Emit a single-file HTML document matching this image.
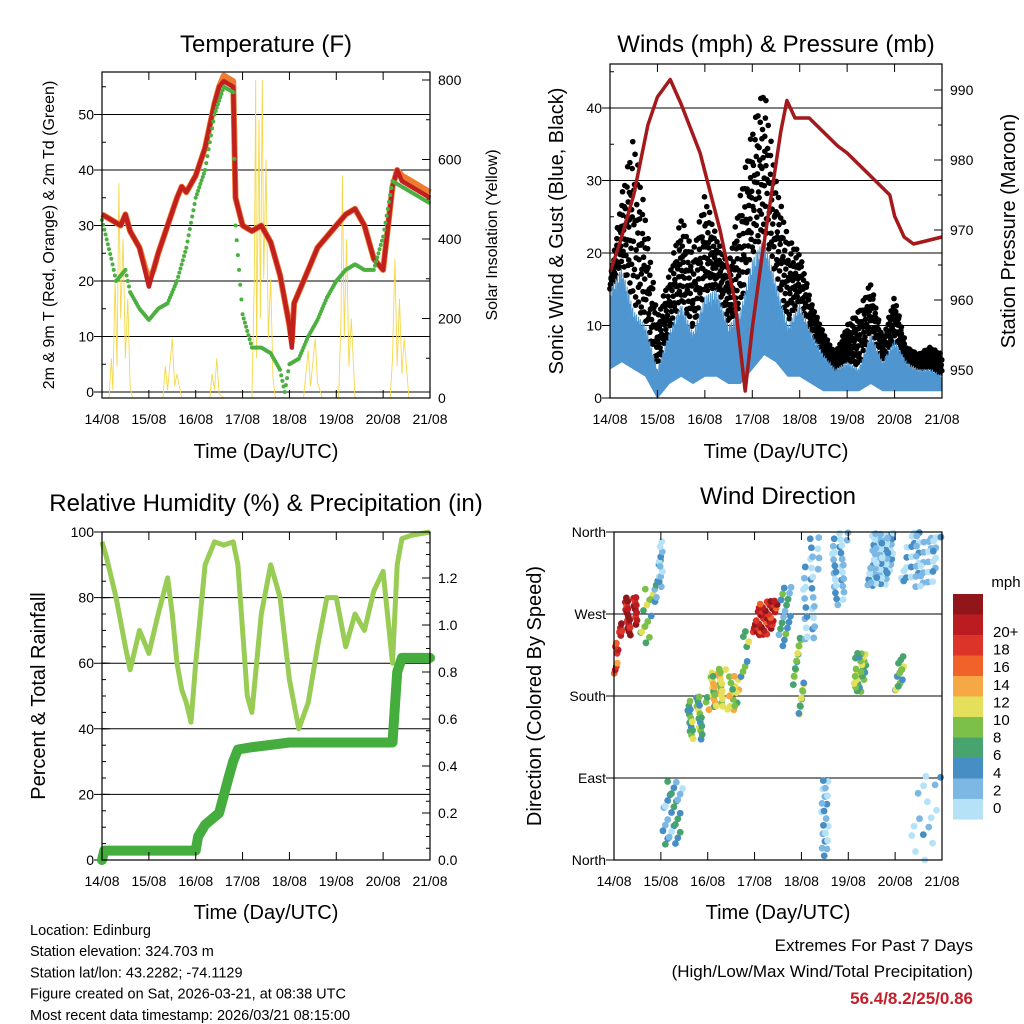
<!DOCTYPE html>
<html><head><meta charset="utf-8">
<style>
html,body{margin:0;padding:0;background:#fff;}
svg{display:block;font-family:"Liberation Sans",Arial,sans-serif;}
</style></head>
<body>
<svg id="chart" width="1024" height="1024" viewBox="0 0 1024 1024" xmlns="http://www.w3.org/2000/svg">
<rect width="1024" height="1024" fill="#fff"/>
</svg>
<script>
// ---- Temperature panel data ----
const tempTimes = [0,0.2,0.4,0.5,0.6,0.8,1.0,1.1,1.2,1.4,1.6,1.7,1.8,2.0,2.2,2.4,2.5,2.6,2.8,2.85,3.0,3.2,3.4,3.6,3.8,4.0,4.05,4.1,4.2,4.4,4.6,4.8,5.0,5.2,5.4,5.6,5.8,6.0,6.2,6.3,6.4,6.6,6.8,7.0];
const temp2m = [32,31,30,32,29,26,19,22,25,30,35,37,36,39,44,52,55,56,55,35,30,29,30,27,21,12,8,16,18,22,26,28,30,32,33,30,24,22,37,40,38,37,36,35];
const temp9m = [32,31,30,32,29,26,20,22,25,30,35,37,36,39,44,52,55,57,56,35,30,29,30,27,21,12,9,16,18,22,26,28,30,32,33,30,24,22,37,40,39,38,37,36];
const dewTimes = [0,0.2,0.3,0.5,0.6,0.8,1.0,1.2,1.4,1.6,1.8,2.0,2.2,2.4,2.6,2.8,2.85,3.0,3.2,3.4,3.6,3.8,3.9,4.0,4.2,4.4,4.6,4.8,5.0,5.2,5.4,5.6,5.8,6.0,6.2,6.4,6.6,7.0];
const dewPoint = [31,24,20,22,18,15,13,15,16,20,26,35,40,50,55,54,30,14,8,8,7,4,0,5,6,10,13,17,20,22,23,22,22,28,38,37,36,34];
const solarTimes = [0,0.15,0.2,0.23,0.28,0.32,0.36,0.4,0.45,0.5,0.55,0.6,0.65,1.3,1.35,1.4,1.5,1.55,1.6,1.7,2.3,2.35,2.4,2.45,2.5,2.6,3.2,3.25,3.28,3.3,3.35,3.38,3.42,3.45,3.5,3.55,3.6,3.65,3.7,4.3,4.4,4.45,4.55,4.6,4.7,5.05,5.1,5.13,5.17,5.22,5.27,5.32,5.4,6.15,6.2,6.25,6.3,6.35,6.4,6.45,6.55,7.0];
const solarValues = [0,0,100,20,300,80,540,200,400,100,250,30,0,0,80,20,150,30,60,0,0,60,20,100,10,0,0,300,800,100,700,200,800,300,600,150,300,50,0,0,120,30,150,40,0,0,200,560,150,400,80,200,0,0,100,350,80,250,60,150,0,0];
const dayLabels = ["14/08","15/08","16/08","17/08","18/08","19/08","20/08","21/08"];
// ---- Wind panel data ----
const pressTimes = [0,0.2,0.5,0.8,1.0,1.27,1.5,1.9,2.32,2.63,2.85,3.0,3.2,3.4,3.6,3.73,3.9,4.2,4.5,4.8,5.0,5.3,5.6,5.9,6.0,6.2,6.4,7.0];
const pressure = [964,968,975,985,989,991.5,988,981,970,960,947,956,966,975,984,988.5,986,986,984,982,981,979,977,975,972,969,968,969];
const windTimes = [0,0.25,0.5,0.75,1.0,1.25,1.5,1.75,2.0,2.25,2.5,2.75,3.0,3.25,3.5,3.75,4.0,4.25,4.5,4.75,5.0,5.25,5.5,5.75,6.0,6.25,6.5,6.75,7.0];
const windLow = [4,5,4,3,0,2,3,2,3,3,2,2,4,6,5,3,3,2,1,1,1,1,2,1,1,1,1,1,1];
const windHigh = [15,18,12,10,4,9,13,9,14,15,10,12,19,22,16,10,13,9,6,4,5,4,9,5,8,5,4,4,3];
const windGust = [16,28,36,25,11,17,25,20,28,22,18,28,37,43,30,22,20,13,9,6,10,12,16,8,14,7,6,7,6];
// ---- RH panel data ----
const rhTimes = [0,0.1,0.3,0.5,0.6,0.8,1.0,1.2,1.4,1.5,1.6,1.7,1.8,1.9,2.0,2.2,2.4,2.6,2.8,2.9,3.0,3.1,3.2,3.4,3.6,3.8,4.0,4.2,4.4,4.6,4.8,5.0,5.2,5.4,5.6,5.8,6.0,6.2,6.3,6.4,6.6,7.0];
const rhValues = [97,92,80,65,58,70,63,75,86,75,60,52,48,42,60,90,97,96,97,90,70,50,45,75,90,80,55,40,48,65,80,80,65,75,70,82,88,60,90,98,99,100];
const precipTimes = [0,0.05,2.0,2.05,2.2,2.5,2.7,2.8,2.9,3.2,3.6,4.0,6.2,6.3,6.4,7.0];
const precipValues = [0,0.04,0.04,0.1,0.15,0.2,0.35,0.42,0.47,0.48,0.49,0.5,0.5,0.8,0.86,0.86];
// ---- Wind direction panel data (segments) ----
const dirStart = [0.0,0.1,0.55,0.85,0.95,1.0,1.5,2.0,2.4,2.7,2.95,3.5,3.8,4.0,4.4,4.6,5.1,5.4,6.0,6.1,6.3];
const dirEnd   = [0.1,0.55,0.85,1.0,1.05,1.5,2.0,2.4,2.7,2.9,3.5,3.8,4.1,4.4,4.6,5.0,5.4,6.0,6.2,7.0,7.0];
const dirLow   = [205,245,235,280,300,15,130,165,165,200,245,230,160,240,0,280,185,300,185,300,0];
const dirHigh  = [245,290,300,330,360,90,180,210,205,260,285,300,250,360,90,360,230,360,225,360,100];
const dirSpeed = [16,19,8,4,2,4,7,10,10,7,18,5,8,2,2,2,8,2,7,2,1];
const dirCount = [8,30,14,8,10,28,30,30,16,8,40,18,24,30,20,30,26,60,14,50,16];
const cbLabels = ["20+","18","16","14","12","10","8","6","4","2","0"];
const cbColors = ["#911619","#bb1c22","#dc3428","#f0622a","#f6a845","#e5e05c","#7cc04a","#48a46e","#478ec5","#7db8e4","#b6e2f8"];

const svg = document.getElementById('chart');
const NS = 'http://www.w3.org/2000/svg';
function mk(tag, attrs, parent){ const e=document.createElementNS(NS,tag); for(const k in attrs) e.setAttribute(k,attrs[k]); (parent||svg).appendChild(e); return e; }
function txt(s,x,y,size,anchor,parent,extra){ const t=mk('text',Object.assign({x:x,y:y,'font-size':size,'text-anchor':anchor||'middle',fill:'#000'},extra||{}),parent); t.textContent=s; return t; }
function lin(d0,d1,p0,p1){ return v=>p0+(v-d0)*(p1-p0)/(d1-d0); }

function frame(g,x0,x1,y0,y1,xs){
  for(let d=0; d<=7; d++){
    const x=xs(d);
    mk('line',{x1:x,x2:x,y1:y1,y2:y1-8,stroke:'#000','stroke-width':1},g);
    mk('line',{x1:x,x2:x,y1:y0,y2:y0+8,stroke:'#000','stroke-width':1},g);
    const t=txt(dayLabels[d],x,y1+26,14,'middle',g);
    
    
  }
  mk('rect',{x:x0,y:y0,width:x1-x0,height:y1-y0,fill:'none',stroke:'#000','stroke-width':1.2},g);
}
function yTicks(g,x0,x1,ys,vals,labels,side,minorStep,lo,hi,grid){
  vals.forEach((v,i)=>{
    const y=ys(v);
    if(side==='left'){ mk('line',{x1:x0,x2:x0+8,y1:y,y2:y,stroke:'#000'},g);
      const t=txt(labels[i],x0-8,y+5,14,'end',g);   }
    else { mk('line',{x1:x1,x2:x1-8,y1:y,y2:y,stroke:'#000'},g);
      const t=txt(labels[i],x1+8,y+5,14,'start',g);   }
    if(grid) mk('line',{x1:x0-8,x2:x1,y1:y,y2:y,stroke:'#000','stroke-width':1},g);
  });
  if(minorStep){ for(let v=Math.ceil(lo/minorStep)*minorStep; v<=hi; v+=minorStep){ const y=ys(v);
    if(side==='left') mk('line',{x1:x0,x2:x0+4,y1:y,y2:y,stroke:'#000'},g); else mk('line',{x1:x1,x2:x1-4,y1:y,y2:y,stroke:'#000'},g);} }
}
function path(ts,vs,xs,ys){ return ts.map((t,i)=>(i?'L':'M')+xs(t).toFixed(1)+','+ys(vs[i]).toFixed(1)).join(''); }
function interp(ts,vs,t){ for(let i=1;i<ts.length;i++){ if(t<=ts[i]){ const f=(t-ts[i-1])/(ts[i]-ts[i-1]); return vs[i-1]+f*(vs[i]-vs[i-1]); } } return vs[vs.length-1]; }

// ================= Temperature =================
{
  const g=mk('g',{});  
  const x0=102,x1=430,y0=72,y1=398;
  const xs=lin(0,7,x0,x1), ys=lin(0,50,392,114.5), ys2=lin(0,800,398,80);
  const tt=txt('Temperature (F)',266,52,24,'middle',g);  
  yTicks(g,x0,x1,ys,[0,10,20,30,40,50],['0','10','20','30','40','50'],'left',5,-1,57,true);
  yTicks(g,x0,x1,ys2,[0,200,400,600,800],['0','200','400','600','800'],'right',100,0,800,false);
  const sol=mk('path',{d:path(solarTimes,solarValues,xs,ys2),fill:'none',stroke:'#f6d84a','stroke-width':0.9},g);
   
  const o=mk('path',{d:path(tempTimes,temp9m,xs,ys),fill:'none',stroke:'#f07a30','stroke-width':6,'stroke-linejoin':'round'},g);
   
  const r=mk('path',{d:path(tempTimes,temp2m,xs,ys),fill:'none',stroke:'#c0201e','stroke-width':4.5,'stroke-linejoin':'round'},g);
   
  for(let t=0;t<=7;t+=0.025){ const c=mk('circle',{cx:xs(t),cy:ys(interp(dewTimes,dewPoint,t)),r:2,fill:'#4cb040'},g);
      }
  frame(g,x0,x1,y0,y1,xs);
  const xl=txt('Time (Day/UTC)',266,458,20,'middle',g);  
  const yl=txt('2m & 9m T (Red, Orange) & 2m Td (Green)',0,0,16,'middle',g,{transform:'translate(54,235) rotate(-90)'});  
  const y2=txt('Solar Insolation (Yellow)',0,0,16,'middle',g,{transform:'translate(497,235) rotate(-90)'});  
}
// ================= Winds =================
{
  const g=mk('g',{});  
  const x0=610,x1=942,y0=64,y1=398;
  const xs=lin(0,7,x0,x1), ys=lin(0,40,398,108), ys2=lin(950,990,370,90);
  const tt=txt('Winds (mph) & Pressure (mb)',776,52,24,'middle',g);  
  yTicks(g,x0,x1,ys,[0,10,20,30,40],['0','10','20','30','40'],'left',5,0,45,true);
  yTicks(g,x0,x1,ys2,[950,960,970,980,990],['950','960','970','980','990'],'right',5,947,993,false);
  for(let t=0;t<=7;t+=0.012){
    const hi=interp(windTimes,windGust,t), lo=interp(windTimes,windHigh,t);
    const k=Math.round(t/0.012);
    const fr=[0.05,0.35,0.6,0.85,1.0,0.2,0.5,0.75,0.95][k%9];
    const fr2=[0.1,0.4,0.7,0.25,0.55][k%5];
    [fr,fr2].forEach(f=>{ const c=mk('circle',{cx:xs(t),cy:ys(lo+(hi-lo)*f),r:2.8,fill:'#000'},g);
        });
  }
  let d='';
  for(let t=0;t<=7.0001;t+=0.01){ const k=Math.round(t/0.01); const j=[1,0.6,0.9,0.4,1,0.75,0.5,0.95][k%8];
    d+=(t?'L':'M')+xs(t).toFixed(1)+','+ys(interp(windTimes,windHigh,t)*j+interp(windTimes,windLow,t)*(1-j)).toFixed(1); }
  for(let t=7;t>=-0.0001;t-=0.01){ d+='L'+xs(Math.max(t,0)).toFixed(1)+','+ys(interp(windTimes,windLow,Math.max(t,0))).toFixed(1); }
  const b=mk('path',{d:d+'Z',fill:'#4f95cf',stroke:'#4f95cf','stroke-width':1},g);
   
  const p=mk('path',{d:path(pressTimes,pressure,xs,ys2),fill:'none',stroke:'#a4191c','stroke-width':3.5,'stroke-linejoin':'round'},g);
   
  frame(g,x0,x1,y0,y1,xs);
  const xl=txt('Time (Day/UTC)',776,458,20,'middle',g);  
  const yl=txt('Sonic Wind & Gust (Blue, Black)',0,0,20,'middle',g,{transform:'translate(563,231) rotate(-90)'});  
  const y2=txt('Station Pressure (Maroon)',0,0,20,'middle',g,{transform:'translate(1015,231) rotate(-90)'});  
}
// ================= RH & Precip =================
{
  const g=mk('g',{});  
  const x0=102,x1=430,y0=532,y1=860;
  const xs=lin(0,7,x0,x1), ys=lin(0,100,860,532), ys2=lin(0,1.2,860,578);
  const tt=txt('Relative Humidity (%) & Precipitation (in)',266,511,24,'middle',g);  
  yTicks(g,x0,x1,ys,[0,20,40,60,80,100],['0','20','40','60','80','100'],'left',5,0,100,true);
  yTicks(g,x0,x1,ys2,[0,0.2,0.4,0.6,0.8,1.0,1.2],['0.0','0.2','0.4','0.6','0.8','1.0','1.2'],'right',0.05,0,1.39,false);
  const r=mk('path',{d:path(rhTimes,rhValues,xs,ys),fill:'none',stroke:'#98cc55','stroke-width':5,'stroke-linejoin':'round'},g);
   
  const p=mk('path',{d:path(precipTimes,precipValues,xs,ys2),fill:'none',stroke:'#45ad3e','stroke-width':10,'stroke-linejoin':'round','stroke-linecap':'round'},g);
   
  frame(g,x0,x1,y0,y1,xs);
  const xl=txt('Time (Day/UTC)',266,919,20,'middle',g);  
  const yl=txt('Percent & Total Rainfall',0,0,20,'middle',g,{transform:'translate(45,696) rotate(-90)'});  
}
// ================= Wind direction =================
{
  const g=mk('g',{});  
  const x0=614,x1=942,y0=532,y1=860;
  const xs=lin(0,7,x0,x1), ys=lin(0,360,860,532);
  const tt=txt('Wind Direction',778,504,24,'middle',g);  
  yTicks(g,x0,x1,ys,[0,90,180,270,360],['North','East','South','West','North'],'left',0,0,0,true);
  function colorFor(s){ const i=Math.min(10,Math.max(0,Math.floor(s/2))); return cbColors[10-i]; }
  dirStart.forEach((s,i)=>{
    const n=dirCount[i];
    for(let k=0;k<n;k++){
      const f=(((k*37)%n)+0.5)/n;
      const q=((k*53+i*11)%97)/97;
      const t=s+(dirEnd[i]-s)*(f*0.8+q*0.2);
      const dv=dirLow[i]+(dirHigh[i]-dirLow[i])*q;
      const sp=dirSpeed[i]+[-2,0,2,-1,1,0,-3,3][(k*5)%8];
      const c=mk('circle',{cx:xs(t),cy:ys(dv),r:3.4,fill:colorFor(Math.max(0,sp))},g);
       
    }
  });
  frame(g,x0,x1,y0,y1,xs);
  const xl=txt('Time (Day/UTC)',778,919,20,'middle',g);  
  const yl=txt('Direction (Colored By Speed)',0,0,20,'middle',g,{transform:'translate(541,696) rotate(-90)'});  
  const cb=mk('g',{});  
  const mt=txt('mph',1006,587,15,'middle',cb);  
  cbColors.forEach((c,i)=>{ const r=mk('rect',{x:953,y:594+i*20.5,width:30,height:20.6,fill:c},cb);
      });
  cbLabels.forEach((l,i)=>{ const t=txt(l,993,637+i*17.6,15,'start',cb);   });
}
// ================= Footer =================
{
  const g=mk('g',{});  
  ['Location: Edinburg','Station elevation: 324.703 m','Station lat/lon: 43.2282; -74.1129','Figure created on Sat, 2026-03-21, at 08:38 UTC','Most recent data timestamp: 2026/03/21 08:15:00'].forEach((s,i)=>{
    const t=txt(s,30,935+i*21.2,14.5,'start',g);   });
  const e=mk('g',{});  
  const a=txt('Extremes For Past 7 Days',973,951,17,'end',e);  
  const b=txt('(High/Low/Max Wind/Total Precipitation)',973,977,17,'end',e);  
  const c=txt('56.4/8.2/25/0.86',973,1004,17,'end',e,{fill:'#c4202a','font-weight':'bold'});  
}
</script>
</body></html>
